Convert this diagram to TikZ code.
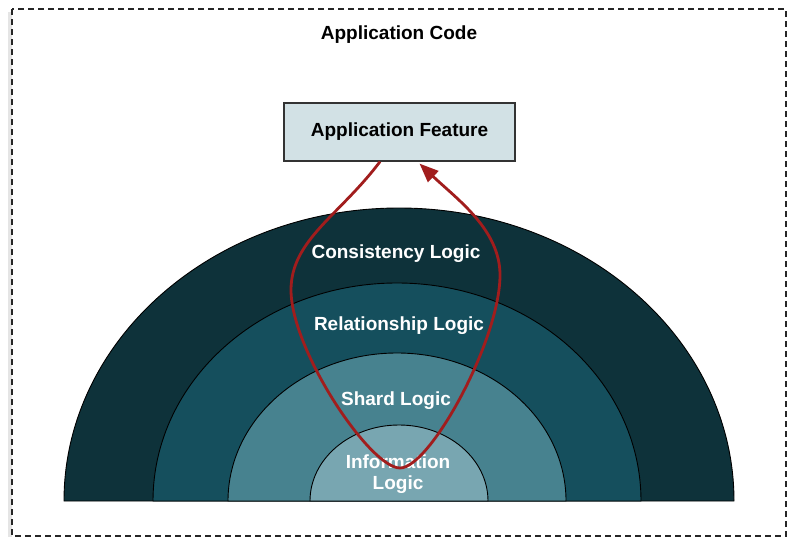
\documentclass[tikz,border=0pt]{standalone}
\usepackage{fontspec}
\setmainfont{Liberation Sans}
\usetikzlibrary{arrows.meta}
\definecolor{layA}{HTML}{0E323A}
\definecolor{layB}{HTML}{154F5D}
\definecolor{layC}{HTML}{47828F}
\definecolor{layD}{HTML}{78A6B1}
\definecolor{boxfill}{HTML}{D2E1E5}
\definecolor{flow}{HTML}{A11D1D}
\tikzset{
  layer/.style={draw=black, line width=0.9pt, fill=#1},
  lbl/.style={text=white, font=\bfseries\fontsize{19}{21.5}\selectfont, align=center, inner sep=0pt},
  featbox/.style={draw=black!80, line width=1.2pt, fill=boxfill, minimum width=231pt, minimum height=58pt, inner sep=0pt, font=\bfseries\fontsize{19}{21.5}\selectfont},
  flowline/.style={draw=flow, line width=2.8pt, -{Triangle[length=19pt,width=15pt]}}
}
\begin{document}
\begin{tikzpicture}[x=1pt,y=-1pt]
\useasboundingbox (0,0) rectangle (789,538);
% shadow and border
\fill[black!10] (8,12) rectangle (12,537);
\draw[black!85, line width=1.8pt, dash pattern=on 6pt off 4pt] (12,9) rectangle (786,536);
\node[font=\bfseries\fontsize{19}{21.5}\selectfont, inner sep=0pt] (title) at (399,35) {Application Code};
% layers
\path[layer=layA] (64,501) arc[start angle=180,end angle=0,x radius=335pt,y radius=293pt] -- cycle;
\path[layer=layB] (153,501) arc[start angle=180,end angle=0,x radius=244pt,y radius=218pt] -- cycle;
\path[layer=layC] (228,501) arc[start angle=180,end angle=0,x radius=169pt,y radius=148pt] -- cycle;
\path[layer=layD] (310,501) arc[start angle=180,end angle=0,x radius=89pt,y radius=76pt] -- cycle;
\node[lbl] (cons) at (396,254) {Consistency Logic};
\node[lbl] (rel) at (399,326) {Relationship Logic};
\node[lbl] (shard) at (396,401) {Shard Logic};
\node[lbl] (info) at (398,474) {Information\\[-0.5pt]Logic};
% feature box
\node[featbox] (feat) at (399.5,132) {Application Feature};
% flow loop
\coordinate (s) at ([xshift=-19.5pt]feat.south);
\coordinate (e) at ([xshift=20pt,yshift=-2pt]feat.south);
\coordinate (l) at (291,290);
\coordinate (b) at (400,468);
\coordinate (r) at (500,275);
\draw[flowline] (s) .. controls (340,215) and (291,240) .. (l)
  .. controls (291,350) and (370,468) .. (b)
  .. controls (430,468) and (500,340) .. (r)
  .. controls (500,230) and (458,200) .. (e);
\end{tikzpicture}
\end{document}
